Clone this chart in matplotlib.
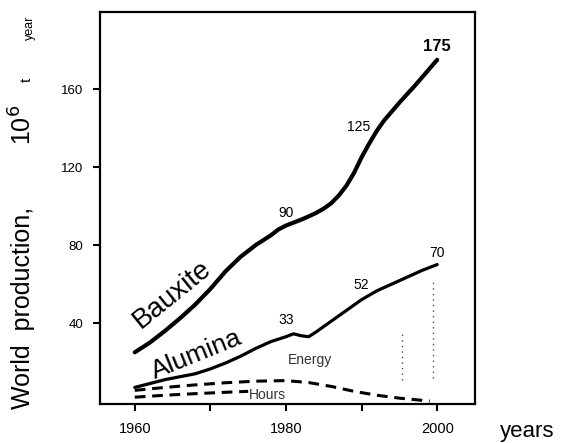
import matplotlib
matplotlib.use("Agg")
import matplotlib.pyplot as plt

plt.rcParams['font.family'] = ['Liberation Sans', 'DejaVu Sans']

# Production series (million tonnes per year)
bauxite_years = [1960, 1962, 1964, 1966, 1968, 1970, 1972, 1974, 1976, 1978,
                 1979, 1980, 1981, 1982, 1983, 1984, 1985, 1986, 1987, 1988,
                 1989, 1990, 1991, 1992, 1993, 1994, 1995, 1996, 1997, 1998,
                 1999, 2000]
bauxite_values = [25, 30, 36, 42.5, 49.5, 57.5, 66.5, 74, 80, 85,
                  88, 90, 91.5, 93, 94.7, 96.5, 98.7, 101.5, 105.5, 110.5,
                  117, 125, 132, 138.5, 144, 148.5, 153, 157.3, 161.5, 166,
                  170.5, 175]

alumina_years = [1960, 1962, 1964, 1966, 1968, 1970, 1972, 1974, 1976, 1978,
                 1980, 1981, 1982, 1983, 1984, 1986, 1988, 1990, 1992, 1994,
                 1996, 1998, 2000]
alumina_values = [7, 9, 11, 12.5, 14, 16.5, 19.5, 23, 27, 30.5,
                  33, 34.5, 33.5, 33, 35.5, 41, 46.5, 52, 56.5, 60,
                  63.5, 67, 70]

energy_years = [1960, 1964, 1968, 1972, 1976, 1980, 1983, 1986, 1989, 1992,
                1995, 1999]
energy_values = [5.5, 7, 8.3, 9.4, 10.2, 10.5, 9.5, 7.5, 5, 3, 1.5, 0]

hours_years = [1960, 1964, 1968, 1972, 1975]
hours_values = [2, 3, 3.8, 4.5, 5]

# Years whose values are written next to the curves
bauxite_marked = [1980, 1990, 2000]
alumina_marked = [1980, 1990, 2000]

# Dotted spread lines near the end of the forecast
spread_years = [1995.4, 1999.5]
spread_low = [11, 12]
spread_high = [35, 62]

x_ticks = [1960, 1970, 1980, 1990, 2000]
x_tick_labels = ["1960", "", "1980", "", "2000"]
y_ticks = [40, 80, 120, 160]

fig = plt.figure(figsize=(5.63, 4.43), dpi=100)
ax = fig.add_axes([100 / 563, 39 / 443, 375 / 563, 392 / 443])

ax.plot(bauxite_years, bauxite_values, color="black", lw=3.0,
        solid_capstyle="round", solid_joinstyle="round")
ax.plot(alumina_years, alumina_values, color="black", lw=2.3,
        solid_capstyle="round", solid_joinstyle="round")
ax.plot(energy_years, energy_values, color="black", lw=2.2,
        dashes=(3.5, 2.2))
ax.plot(hours_years, hours_values, color="black", lw=2.2,
        dashes=(3.5, 2.2))

for yr, lo, hi in zip(spread_years, spread_low, spread_high):
    ax.vlines(yr, lo, hi, colors="black", lw=1.0, linestyles=(0, (1, 3)),
              alpha=0.7)

ax.set_xlim(1955.4, 2005.0)
ax.set_ylim(-1.5, 199.5)

ax.set_xticks(x_ticks)
ax.set_xticklabels(x_tick_labels)
ax.set_yticks(y_ticks)
ax.set_yticklabels([str(v) for v in y_ticks])
ax.tick_params(axis="x", direction="out", length=5, width=1.5, pad=8,
               labelsize=10.5, colors="black")
ax.tick_params(axis="y", direction="out", length=5, width=1.5, pad=7,
               labelsize=9.5, colors="black")

for s in ax.spines.values():
    s.set_linewidth(1.6)
    s.set_color("black")

# Curve names
ax.text(1964.9, 54.4, "Bauxite", rotation=39, fontsize=20,
        ha="center", va="center")
ax.text(1968.2, 23.6, "Alumina", rotation=22, fontsize=19,
        ha="center", va="center")
ax.text(1983.2, 21, "Energy", fontsize=10, ha="center", va="center",
        color="#333333")
ax.text(1977.5, 3.1, "Hours", fontsize=10, ha="center", va="center",
        color="#333333")

# Values written beside the curves
bauxite_offsets = {1980: (0, 9), 1990: (-2, 22), 2000: (0, 9.5)}
for yr in bauxite_marked:
    v = bauxite_values[bauxite_years.index(yr)]
    bold = "bold" if yr == 2000 else "normal"
    size = 12 if yr == 2000 else 10
    ax.annotate(f"{v:g}", (yr, v), xytext=bauxite_offsets[yr],
                textcoords="offset points", ha="center", va="center",
                fontsize=size, fontweight=bold)

alumina_offsets = {1980: (0, 12), 1990: (0, 10.5), 2000: (0, 8)}
for yr in alumina_marked:
    v = alumina_values[alumina_years.index(yr)]
    ax.annotate(f"{v:g}", (yr, v), xytext=alumina_offsets[yr],
                textcoords="offset points", ha="center", va="center",
                fontsize=10)

# Axis titles
fig.text(23 / 563, 1 - 308 / 443, "World  production,", rotation=90,
         fontsize=18, ha="center", va="center")
fig.text(23 / 563, 1 - 125 / 443, "10$^6$", rotation=90,
         fontsize=18, ha="center", va="center")
fig.text(27 / 563, 1 - 80 / 443, "t", rotation=90,
         fontsize=11, ha="center", va="center")
fig.text(30 / 563, 1 - 28 / 443, "year", rotation=90,
         fontsize=9, ha="center", va="center")
fig.text(527 / 563, 1 - 431 / 443, "years", fontsize=16,
         ha="center", va="center")

fig.savefig("out.png", dpi=100)
